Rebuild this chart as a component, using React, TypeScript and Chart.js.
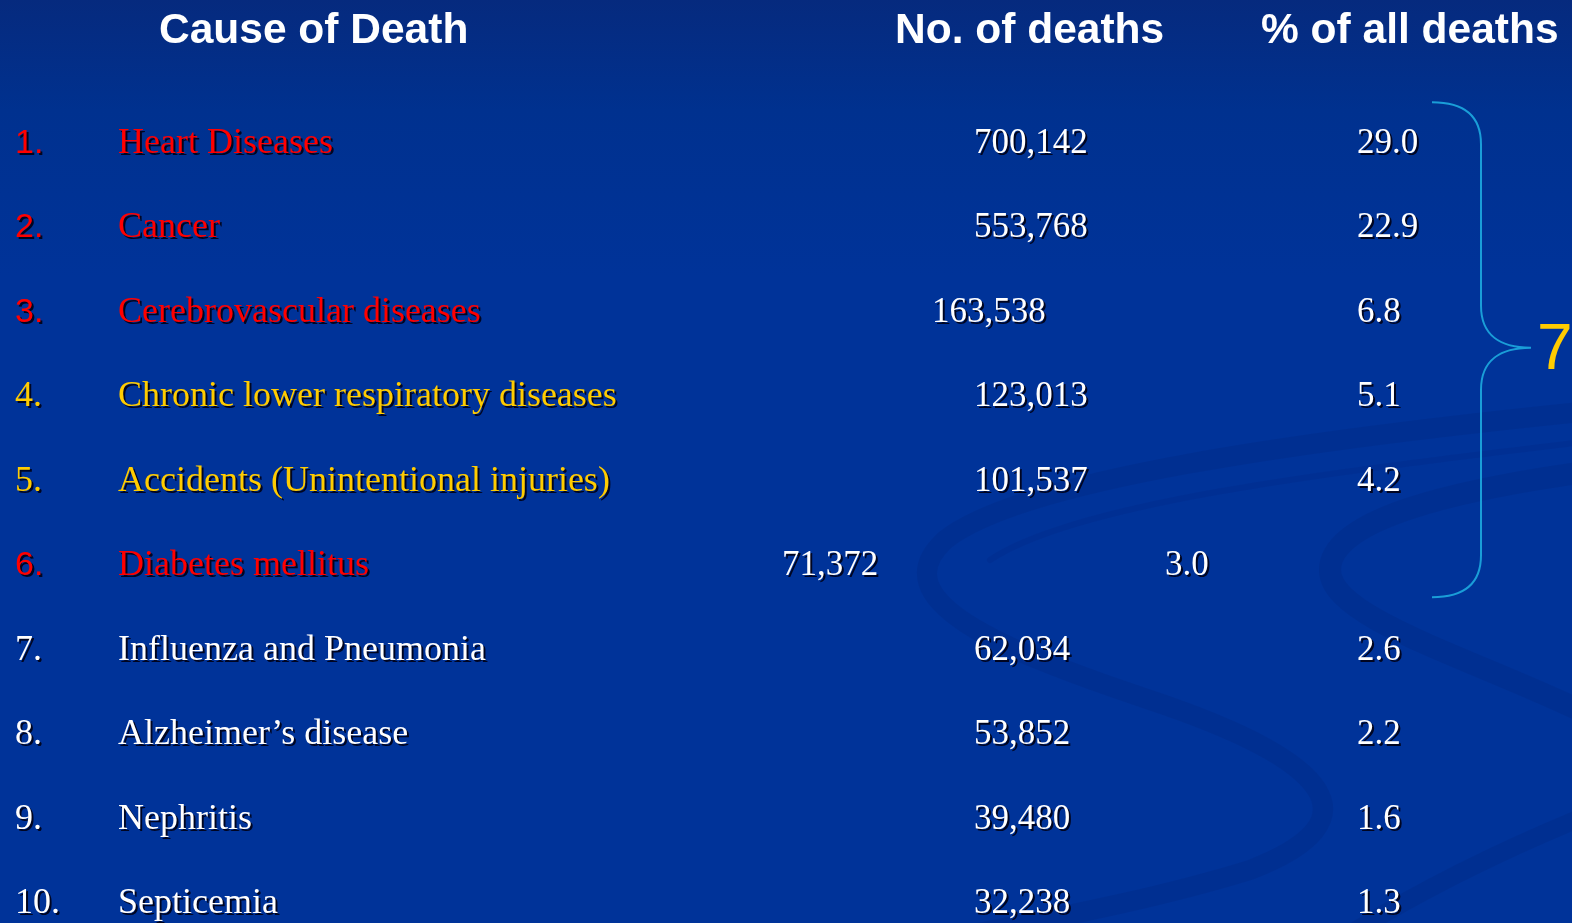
import React, { useEffect, useRef } from "react";
import { Chart, registerables } from "chart.js";

Chart.register(...registerables);

// ---- data ----
const headers = ["Cause of Death", "No. of deaths", "% of all deaths"];
const ranks = ["1.", "2.", "3.", "4.", "5.", "6.", "7.", "8.", "9.", "10."];
const causes = [
  "Heart Diseases",
  "Cancer",
  "Cerebrovascular diseases",
  "Chronic lower respiratory diseases",
  "Accidents (Unintentional injuries)",
  "Diabetes mellitus",
  "Influenza and Pneumonia",
  "Alzheimer\u2019s disease",
  "Nephritis",
  "Septicemia",
];
const deaths = [700142, 553768, 163538, 123013, 101537, 71372, 62034, 53852, 39480, 32238];
const percents = [29.0, 22.9, 6.8, 5.1, 4.2, 3.0, 2.6, 2.2, 1.6, 1.3];
const groups = ["red", "red", "red", "yellow", "yellow", "red", "white", "white", "white", "white"];
const bracketLabel = "7";

// ---- layout (pixel-like units of the x scale; row units on y scale) ----
const COL_RANK = 15;
const COL_CAUSE = 118;
const COL_DEATHS = [974, 974, 932, 974, 974, 782, 974, 974, 974, 974];
const COL_PCT = [1357, 1357, 1357, 1357, 1357, 1165, 1357, 1357, 1357, 1357];
const HEADER_X = [159, 895, 1261];
const HEADER_ROW = -1.3;
const ROW_PX = 84.44;
const FIRST_BASE = 153;
const Y_MIN = -FIRST_BASE / ROW_PX;
const Y_MAX = Y_MIN + 923 / ROW_PX;

const COLORS: Record<string, string> = { red: "#ff0000", yellow: "#ffcc00", white: "#ffffff" };

function drawBackground(chart: any) {
  const ctx = chart.ctx as CanvasRenderingContext2D;
  const w = chart.width, h = chart.height;
  ctx.save();
  const g = ctx.createLinearGradient(0, 0, 0, h);
  g.addColorStop(0, "#062a7e");
  g.addColorStop(0.12, "#00318f");
  g.addColorStop(0.3, "#003399");
  g.addColorStop(1, "#003399");
  ctx.fillStyle = g;
  ctx.fillRect(0, 0, w, h);

  ctx.lineCap = "round";
  ctx.strokeStyle = "rgba(0,35,120,0.22)";
  // big S swirl
  ctx.lineWidth = 20;
  ctx.beginPath();
  ctx.moveTo(1600, 410);
  ctx.bezierCurveTo(1300, 440, 1020, 480, 945, 540);
  ctx.bezierCurveTo(880, 600, 1000, 650, 1150, 700);
  ctx.bezierCurveTo(1330, 760, 1380, 820, 1250, 870);
  ctx.bezierCurveTo(1120, 910, 980, 930, 900, 950);
  ctx.stroke();
  ctx.lineWidth = 6;
  ctx.strokeStyle = "rgba(0,35,120,0.18)";
  ctx.beginPath();
  ctx.moveTo(1600, 440);
  ctx.bezierCurveTo(1350, 470, 1080, 500, 990, 560);
  ctx.stroke();
  // second swirl
  ctx.lineWidth = 22;
  ctx.strokeStyle = "rgba(0,35,120,0.22)";
  ctx.beginPath();
  ctx.moveTo(1600, 470);
  ctx.bezierCurveTo(1450, 490, 1330, 520, 1330, 570);
  ctx.bezierCurveTo(1330, 620, 1480, 660, 1600, 720);
  ctx.stroke();
  // lower right sweep
  ctx.lineWidth = 18;
  ctx.beginPath();
  ctx.moveTo(1600, 810);
  ctx.bezierCurveTo(1500, 850, 1420, 890, 1340, 940);
  ctx.stroke();
  ctx.restore();
}

const tablePlugin = {
  id: "tablePlugin",
  beforeDraw(chart: any) {
    drawBackground(chart);
  },
  afterDatasetsDraw(chart: any) {
    const ctx = chart.ctx as CanvasRenderingContext2D;
    const xs = chart.scales.x;
    const ys = chart.scales.y;
    ctx.save();
    ctx.textBaseline = "alphabetic";
    ctx.textAlign = "left";

    // headers
    ctx.fillStyle = "#ffffff";
    ctx.font = "bold 42.5px 'Liberation Sans', Arial, sans-serif";
    headers.forEach((t, i) => {
      ctx.fillText(t, xs.getPixelForValue(HEADER_X[i]), ys.getPixelForValue(HEADER_ROW));
    });

    ctx.shadowColor = "rgba(0,0,20,0.9)";
    ctx.shadowOffsetX = 2;
    ctx.shadowOffsetY = 2;
    ctx.shadowBlur = 0;

    const metaRank = chart.getDatasetMeta(0);
    const metaCause = chart.getDatasetMeta(1);
    const metaDeaths = chart.getDatasetMeta(2);
    const metaPct = chart.getDatasetMeta(3);

    causes.forEach((c, i) => {
      ctx.fillStyle = COLORS[groups[i]];
      const r = metaRank.data[i];
      ctx.font = groups[i] === "red"
        ? "34px 'Liberation Sans', Arial, sans-serif"
        : "36px 'Liberation Serif', 'Times New Roman', serif";
      ctx.fillText(ranks[i], r.x, r.y);
      const ce = metaCause.data[i];
      ctx.font = "36px 'Liberation Serif', 'Times New Roman', serif";
      ctx.fillText(c, ce.x, ce.y);
      ctx.fillStyle = "#ffffff";
      ctx.font = "35px 'Liberation Serif', 'Times New Roman', serif";
      const d = metaDeaths.data[i];
      ctx.fillText(deaths[i].toLocaleString("en-US"), d.x, d.y);
      const p = metaPct.data[i];
      ctx.fillText(percents[i].toFixed(1), p.x, p.y);
    });
    ctx.restore();

    // bracket over the first six rows
    ctx.save();
    const xL = xs.getPixelForValue(1432);
    const xV = xs.getPixelForValue(1481);
    const xT = xs.getPixelForValue(1531);
    const yTop = ys.getPixelForValue(-0.6);
    const yBot = ys.getPixelForValue(5.26);
    const yMid = (yTop + yBot) / 2 - 2;
    const rr = 42;
    ctx.strokeStyle = "#1a9ed8";
    ctx.lineWidth = 2;
    ctx.beginPath();
    ctx.moveTo(xL, yTop);
    ctx.bezierCurveTo(xL + 30, yTop, xV, yTop + 12, xV, yTop + rr);
    ctx.lineTo(xV, yMid - rr);
    ctx.bezierCurveTo(xV, yMid - 12, xT - 30, yMid, xT, yMid);
    ctx.bezierCurveTo(xT - 30, yMid, xV, yMid + 12, xV, yMid + rr);
    ctx.lineTo(xV, yBot - rr);
    ctx.bezierCurveTo(xV, yBot - 12, xL + 30, yBot, xL, yBot);
    ctx.stroke();
    ctx.fillStyle = "#ffcc00";
    ctx.font = "64px 'Liberation Sans', Arial, sans-serif";
    ctx.textBaseline = "alphabetic";
    ctx.fillText(bracketLabel, xs.getPixelForValue(1537), yMid + 21);
    ctx.restore();
  },
};

export default function App() {
  const ref = useRef<HTMLCanvasElement | null>(null);
  useEffect(() => {
    if (!ref.current) return;
    const invisible = { pointRadius: 0, pointHoverRadius: 0, showLine: false };
    const chart = new Chart(ref.current, {
      type: "scatter",
      data: {
        datasets: [
          { label: "rank", data: causes.map((_, i) => ({ x: COL_RANK, y: i })), ...invisible },
          { label: "cause", data: causes.map((_, i) => ({ x: COL_CAUSE, y: i })), ...invisible },
          { label: "deaths", data: deaths.map((_, i) => ({ x: COL_DEATHS[i], y: i })), ...invisible },
          { label: "percent", data: percents.map((_, i) => ({ x: COL_PCT[i], y: i })), ...invisible },
        ],
      },
      options: {
        animation: false,
        responsive: false,
        devicePixelRatio: 1,
        layout: { padding: 0 },
        events: [],
        plugins: { legend: { display: false }, tooltip: { enabled: false } },
        scales: {
          x: { type: "linear", min: 0, max: 1572, display: false },
          y: { type: "linear", min: Y_MIN, max: Y_MAX, reverse: true, display: false },
        },
      },
      plugins: [tablePlugin],
    } as any);
    return () => chart.destroy();
  }, []);
  return (
    <div style={{ position: "fixed", left: 0, top: 0, width: 1572, height: 923, background: "#003399" }}>
      <canvas ref={ref} width={1572} height={923} style={{ display: "block" }} />
    </div>
  );
}
